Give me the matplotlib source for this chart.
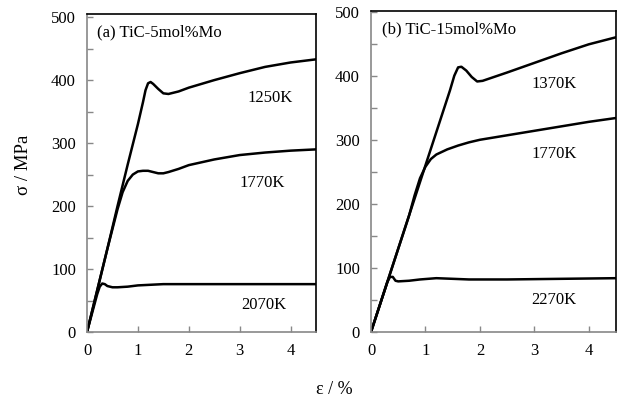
import numpy as np
import matplotlib.pyplot as plt

plt.rcParams['font.family'] = ['Liberation Serif', 'DejaVu Serif']

# (a) TiC-5mol%Mo
a_1250_x = [0, 0.2, 0.4, 0.6, 0.8, 1.0, 1.1, 1.15, 1.2, 1.25, 1.3, 1.4, 1.5, 1.6, 1.8, 2.0, 2.5, 3.0, 3.5, 4.0, 4.5]
a_1250_y = [0, 66, 132, 200, 266, 330, 365, 384, 395, 397, 394, 386, 379, 378, 382, 388, 400, 411, 421, 428, 433]
a_1770_x = [0, 0.2, 0.4, 0.6, 0.7, 0.8, 0.9, 1.0, 1.1, 1.2, 1.3, 1.4, 1.5, 1.6, 1.8, 2.0, 2.5, 3.0, 3.5, 4.0, 4.5]
a_1770_y = [0, 66, 132, 195, 222, 240, 250, 255, 256, 256, 254, 252, 252, 254, 259, 265, 274, 281, 285, 288, 290]
a_2070_x = [0, 0.1, 0.2, 0.25, 0.3, 0.35, 0.4, 0.5, 0.6, 0.8, 1.0, 1.5, 2.0, 3.0, 4.0, 4.5]
a_2070_y = [0, 30, 60, 72, 77, 76, 73, 71, 71, 72, 74, 76, 76, 76, 76, 76]

# (b) TiC-15mol%Mo
b_1370_x = [0, 0.4, 0.8, 1.2, 1.45, 1.53, 1.6, 1.66, 1.75, 1.85, 1.95, 2.05, 2.5, 3.0, 3.5, 4.0, 4.5]
b_1370_y = [0, 104, 208, 312, 377, 400, 413, 414, 408, 398, 391, 392, 405, 420, 435, 449, 460]
b_1770_x = [0, 0.4, 0.7, 0.8, 0.9, 1.0, 1.1, 1.2, 1.4, 1.6, 1.8, 2.0, 2.5, 3.0, 3.5, 4.0, 4.5]
b_1770_y = [0, 104, 182, 213, 240, 258, 270, 277, 285, 291, 296, 300, 307, 314, 321, 328, 334]
b_2270_x = [0, 0.1, 0.2, 0.3, 0.35, 0.4, 0.45, 0.5, 0.7, 0.9, 1.2, 1.5, 1.8, 2.5, 3.5, 4.5]
b_2270_y = [0, 26, 52, 78, 86, 86, 80, 79, 80, 82, 84, 83, 82, 82, 83, 84]

W, H = 621, 399
fig = plt.figure(figsize=(W / 100, H / 100), dpi=100)

def make_ax(l, r, t, b, ytop):
    ax = fig.add_axes([l / W, (H - b) / H, (r - l) / W, (b - t) / H])
    ax.set_xlim(0, 4.5)
    ax.set_ylim(0, ytop)
    ax.set_xticks([0, 1, 2, 3, 4])
    ax.set_yticks([0, 100, 200, 300, 400, 500])
    ax.set_yticks(np.arange(50, 500, 100), minor=True)
    for s in ['left', 'bottom']:
        ax.spines[s].set_color('#888888')
    for s in ['top', 'right']:
        ax.spines[s].set_color('black')
    for s in ax.spines.values():
        s.set_linewidth(1.2)
    ax.tick_params(which='both', direction='in', color='#888888', length=4, width=1, labelsize=12)
    ax.tick_params(axis='x', pad=8)
    ax.tick_params(axis='y', pad=8)
    return ax

ax1 = make_ax(87, 316, 14, 332, 505)
ax2 = make_ax(371, 616, 11, 332, 501)

lw = 1.8
ax1.plot(a_1250_x, a_1250_y, color='black', lw=lw)
ax1.plot(a_1770_x, a_1770_y, color='black', lw=lw)
ax1.plot(a_2070_x, a_2070_y, color='black', lw=lw)
ax2.plot(b_1370_x, b_1370_y, color='black', lw=lw)
ax2.plot(b_1770_x, b_1770_y, color='black', lw=lw)
ax2.plot(b_2270_x, b_2270_y, color='black', lw=lw)

fs = 12
ax1.text(0.2, 476, '(a) TiC-5mol%Mo', fontsize=fs, va='center')
ax1.text(3.16, 371, '1250K', fontsize=fs, va='center')
ax1.text(3.0, 236, '1770K', fontsize=fs, va='center')
ax1.text(3.04, 43, '2070K', fontsize=fs, va='center')

ax2.text(0.2, 473, '(b) TiC-15mol%Mo', fontsize=fs, va='center')
ax2.text(2.95, 387, '1370K', fontsize=fs, va='center')
ax2.text(2.95, 278, '1770K', fontsize=fs, va='center')
ax2.text(2.95, 50, '2270K', fontsize=fs, va='center')

fig.text(24 / W, 1 - 165 / H, 'σ / MPa', rotation=90, fontsize=13.5, ha='center', va='center')
fig.text(334 / W, 1 - 390 / H, 'ε / %', fontsize=13, ha='center', va='center')

fig.savefig('out.png', dpi=100)
